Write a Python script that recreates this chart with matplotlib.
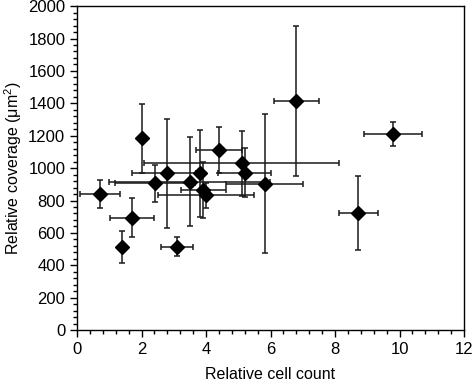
import matplotlib
matplotlib.use("Agg")
import matplotlib.pyplot as plt
from matplotlib.ticker import MultipleLocator

plt.rcParams['font.family'] = ['Liberation Sans', 'DejaVu Sans']
plt.rcParams['mathtext.fontset'] = 'custom'
plt.rcParams['mathtext.rm'] = 'Liberation Sans'
plt.rcParams['mathtext.default'] = 'regular'

# valores
cell_count = [0.71, 1.40, 1.71, 2.00, 2.41, 2.80, 3.10, 3.49, 3.80, 3.91, 4.00, 4.40, 5.10, 5.20, 5.82, 6.80, 8.72, 9.81]
coverage = [840, 514, 693, 1183, 906, 967, 514, 915, 967, 864, 833, 1111, 1029, 973, 905, 1415, 724, 1210]
count_err = [0.61, 0.10, 0.69, 0.08, 1.24, 1.09, 0.50, 2.49, 0.10, 0.70, 1.50, 0.70, 3.02, 0.82, 1.19, 0.70, 0.60, 0.90]
coverage_err = [85, 100, 120, 212, 113, 337, 58, 275, 268, 174, 78, 140, 203, 150, 430, 463, 229, 75]

fig = plt.figure(figsize=(4.73, 3.83), dpi=100)
ax = fig.add_axes([0.163, 0.138, 0.818, 0.846])

ax.errorbar(cell_count, coverage, xerr=count_err, yerr=coverage_err,
            fmt='D', color='black', markersize=7.5, ecolor='#1a1a1a',
            elinewidth=1.1, capsize=2.5, capthick=1.1)

ax.set_xlim(0, 12)
ax.set_ylim(0, 2000)
ax.xaxis.set_major_locator(MultipleLocator(2))
ax.xaxis.set_minor_locator(MultipleLocator(0.4))
ax.yaxis.set_major_locator(MultipleLocator(200))
ax.yaxis.set_minor_locator(MultipleLocator(40))
ax.tick_params(which='both', direction='out', top=False, right=False, width=1, labelsize=12, color='black')
ax.tick_params(which='major', length=5)
ax.tick_params(which='minor', length=3)
for s in ax.spines.values():
    s.set_linewidth(1)
    s.set_color('black')

ax.set_xlabel('Relative cell count', fontsize=11.5, labelpad=7)
ax.set_ylabel('Relative coverage (μm$^2$)', fontsize=11.5, labelpad=3)

fig.savefig('out.png', dpi=100)
